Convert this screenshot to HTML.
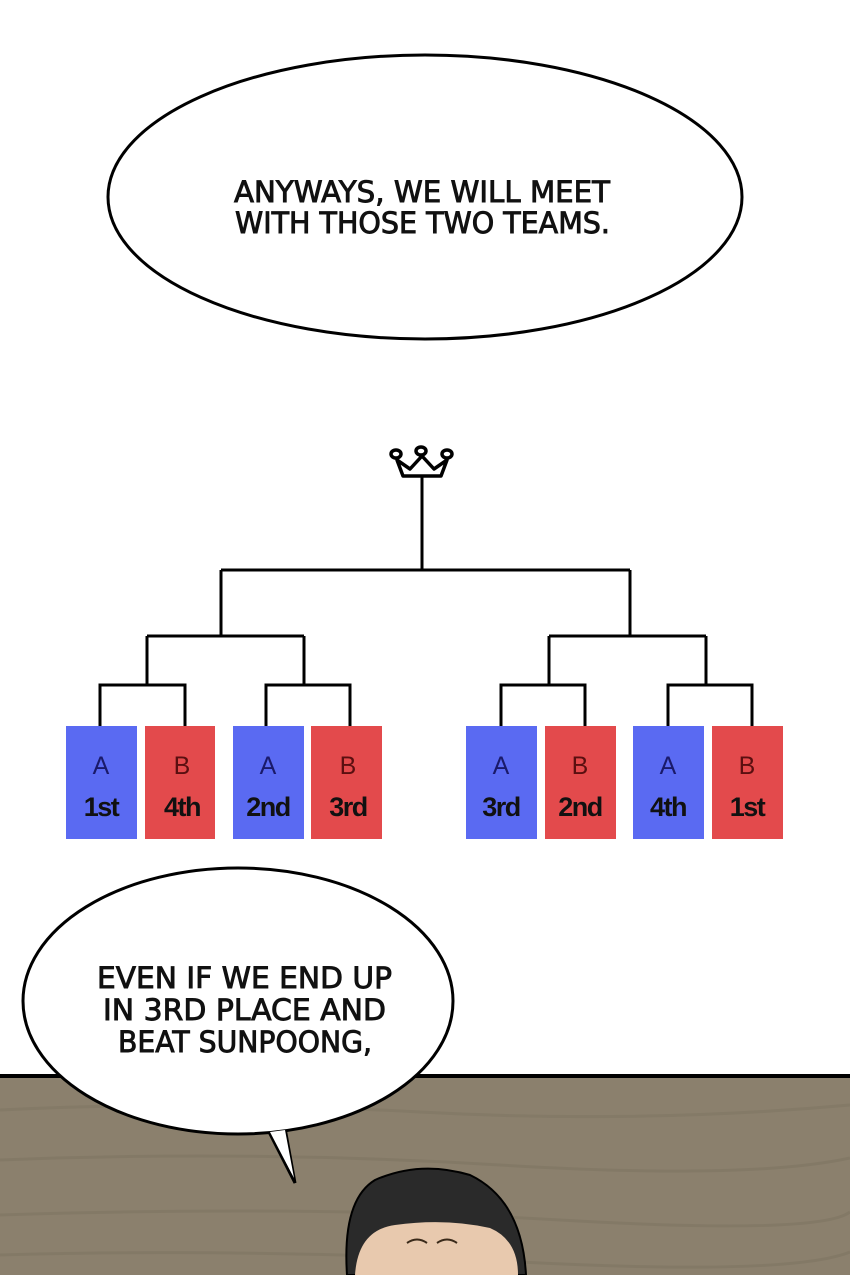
<!DOCTYPE html>
<html><head><meta charset="utf-8"><style>
html,body{margin:0;padding:0;background:#fff;}
svg{display:block;}
</style></head><body>
<svg width="850" height="1275" viewBox="0 0 850 1275" xmlns="http://www.w3.org/2000/svg">
<rect width="850" height="1275" fill="#fff"/>
<rect x="0" y="1077" width="850" height="198" fill="#8b806d"/>
<g stroke="#7d7361" stroke-width="3" opacity="0.5" fill="none">
<path d="M0 1110 Q200 1100 420 1112 T850 1105"/>
<path d="M0 1160 Q250 1150 500 1165 T850 1158"/>
<path d="M0 1215 Q300 1205 560 1220 T850 1212"/>
<path d="M0 1255 Q250 1248 520 1262 T850 1252"/>
</g>
<rect x="0" y="1074" width="850" height="4" fill="#000"/>
<path d="M347 1275 Q342 1200 375 1180 Q420 1160 470 1175 Q522 1200 526 1275 Z" fill="#2a2a2a" stroke="#000" stroke-width="2"/>
<path d="M355 1275 Q358 1230 395 1225 Q445 1218 490 1228 Q518 1240 518 1275 Z" fill="#e8c9ae"/>
<path d="M407 1243 Q417 1236 427 1243 M437 1243 Q447 1236 457 1243" stroke="#3a2a1a" stroke-width="2" fill="none"/>
<ellipse cx="425" cy="197" rx="317" ry="142" fill="#fff" stroke="#000" stroke-width="3"/>
<g font-family="'DejaVu Sans','Liberation Sans',sans-serif" font-size="29" fill="#111" stroke="#111" stroke-width="0.9">
<text x="234" y="202" textLength="376" lengthAdjust="spacingAndGlyphs">ANYWAYS, WE WILL MEET</text>
<text x="235" y="233" textLength="375" lengthAdjust="spacingAndGlyphs">WITH THOSE TWO TEAMS.</text>
</g>
<g stroke="#000" stroke-width="3.5" fill="none" stroke-linecap="round" stroke-linejoin="round">
<path d="M397 460 L403 476 L441 476 L447 460 L434 469 L422 456 L410 469 Z"/>
<ellipse cx="396" cy="454" rx="5" ry="4"/><ellipse cx="421" cy="451" rx="5" ry="4"/><ellipse cx="447" cy="454" rx="5" ry="4"/>
</g>
<g stroke="#000" stroke-width="3" fill="none">
<path d="M422 476 V570 M221 570 H630 M221 570 V636 M630 570 V636"/>
<path d="M147 636 H304 M147 636 V685 M304 636 V685"/>
<path d="M549 636 H706 M549 636 V685 M706 636 V685"/>
<path d="M100 726 V685 H185 V726 M266 726 V685 H350 V726"/>
<path d="M501 726 V685 H585 V726 M668 726 V685 H752 V726"/>
</g>
<g>
<rect x="66" y="726" width="71" height="113" fill="#5a6af2"/>
<rect x="145" y="726" width="70" height="113" fill="#e34a4c"/>
<rect x="233" y="726" width="71" height="113" fill="#5a6af2"/>
<rect x="311" y="726" width="71" height="113" fill="#e34a4c"/>
<rect x="466" y="726" width="71" height="113" fill="#5a6af2"/>
<rect x="545" y="726" width="71" height="113" fill="#e34a4c"/>
<rect x="633" y="726" width="71" height="113" fill="#5a6af2"/>
<rect x="712" y="726" width="71" height="113" fill="#e34a4c"/>
</g>
<g font-family="'Liberation Sans',sans-serif" text-anchor="middle">
<g font-size="25" fill="#1a1a6a">
<text x="101" y="774">A</text><text x="268" y="774">A</text><text x="501" y="774">A</text><text x="668" y="774">A</text>
</g>
<g font-size="25" fill="#5a0f10">
<text x="182" y="774">B</text><text x="348" y="774">B</text><text x="580" y="774">B</text><text x="747" y="774">B</text>
</g>
<g font-size="27" fill="#111" font-weight="bold" letter-spacing="-1.5">
<text x="101" y="816">1st</text><text x="182" y="816">4th</text><text x="268" y="816">2nd</text><text x="348" y="816">3rd</text>
<text x="501" y="816">3rd</text><text x="580" y="816">2nd</text><text x="668" y="816">4th</text><text x="747" y="816">1st</text>
</g>
</g>
<path d="M268 1130 L295 1183 L285 1128" fill="#fff" stroke="#000" stroke-width="3" stroke-linejoin="miter"/>
<ellipse cx="238" cy="1001" rx="215" ry="133" fill="#fff" stroke="#000" stroke-width="3"/>
<path d="M270 1132 L294 1178 L285 1130" fill="#fff"/>
<g font-family="'DejaVu Sans','Liberation Sans',sans-serif" font-size="29" fill="#111" stroke="#111" stroke-width="0.9">
<text x="97" y="988" textLength="295" lengthAdjust="spacingAndGlyphs">EVEN IF WE END UP</text>
<text x="103" y="1020" textLength="283" lengthAdjust="spacingAndGlyphs">IN 3RD PLACE AND</text>
<text x="118" y="1052" textLength="254" lengthAdjust="spacingAndGlyphs">BEAT SUNPOONG,</text>
</g>
</svg>
</body></html>
